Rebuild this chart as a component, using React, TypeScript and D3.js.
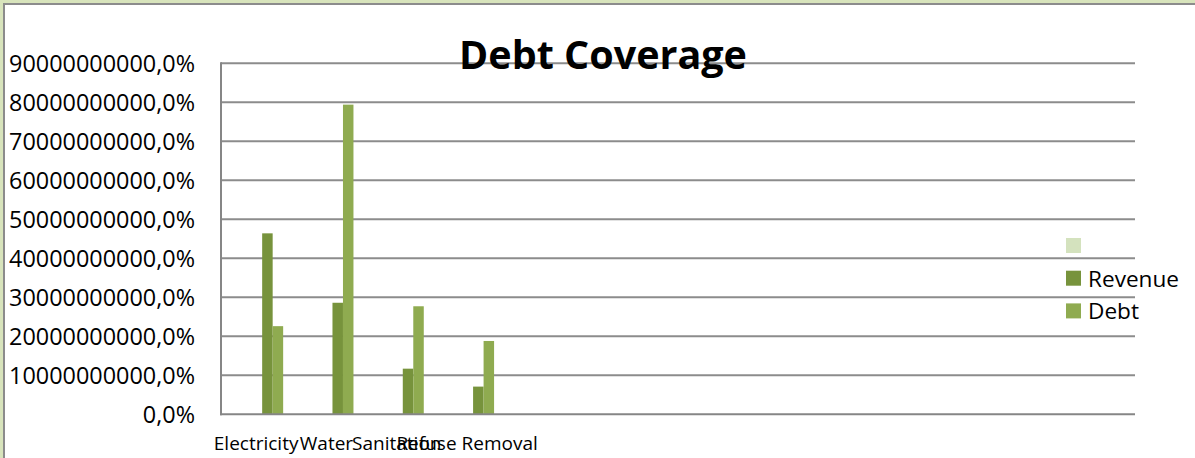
import React from "react";
import * as d3 from "d3";

const categories = ["Electricity", "Water", "Sanitation", "Refuse Removal", "", "", "", "", "", "", "", "", ""];
const seriesNames = ["", "Revenue", "Debt"];
const revenue = [46400000000, 28600000000, 11700000000, 7100000000];
const debt = [22600000000, 79400000000, 27700000000, 18800000000];
const yTicks = [0, 10000000000, 20000000000, 30000000000, 40000000000, 50000000000, 60000000000, 70000000000, 80000000000, 90000000000];
const colors = ["#d4e2be", "#77933c", "#8fab50"];

const W = 1195;
const H = 458;
const FONT = "'Open Sans', 'Noto Sans', sans-serif";

export default function App() {
  const plot = { left: 221, right: 1135, top: 63.3, bottom: 414.3 };
  const x = d3
    .scaleBand<number>()
    .domain(categories.map((_, i) => i))
    .range([plot.left, plot.right])
    .padding(0);
  const inner = d3
    .scaleBand<string>()
    .domain(seriesNames)
    .range([0, x.bandwidth()])
    .paddingInner(0)
    .paddingOuter(1.85)
    .align(0.79);
  const y = d3.scaleLinear().domain([0, 90000000000]).range([plot.bottom, plot.top]);

  const seriesData: { name: string; values: number[] }[] = [
    { name: seriesNames[1], values: revenue },
    { name: seriesNames[2], values: debt },
  ];

  const gridColor = "#8c8c8c";

  return (
    <svg width={W} height={H} style={{ position: "absolute", left: 0, top: 0 }}>
      <rect x={0} y={0} width={W} height={H} fill="#d8e4bc" />
      <rect x={4} y={4} width={W + 50} height={H + 50} fill="#ffffff" stroke="#8c8c8c" strokeWidth={2} />

      {/* gridlines */}
      {yTicks.slice(1).map((t) => (
        <line key={t} x1={plot.left} x2={plot.right} y1={y(t)} y2={y(t)} stroke={gridColor} strokeWidth={2} />
      ))}

      {/* bars */}
      {seriesData.map((s, si) =>
        s.values.map((v, i) => (
          <rect
            key={s.name + i}
            x={(x(i) as number) + (inner(s.name) as number)}
            y={y(v)}
            width={inner.bandwidth()}
            height={y(0) - y(v)}
            fill={colors[si + 1]}
          />
        ))
      )}

      {/* axes */}
      <line x1={plot.left} x2={plot.left} y1={plot.top - 1} y2={plot.bottom + 1} stroke="#868686" strokeWidth={2} />
      <line x1={plot.left - 1} x2={plot.right} y1={plot.bottom} y2={plot.bottom} stroke="#868686" strokeWidth={2} />

      {/* y labels */}
      {yTicks.map((t) => (
        <text
          key={"yl" + t}
          x={195}
          y={y(t)}
          textAnchor="end"
          dominantBaseline="central"
          fontFamily={FONT}
          fontSize={23.4}
          fill="#000"
        >
          {`${t},0%`}
        </text>
      ))}

      {/* x labels */}
      {categories.map((c, i) =>
        c ? (
          <text
            key={"xl" + i}
            x={(x(i) as number) + x.bandwidth() / 2}
            y={450}
            textAnchor="middle"
            fontFamily={FONT}
            fontSize={19}
            fill="#000"
          >
            {c}
          </text>
        ) : null
      )}

      {/* title */}
      <text x={603} y={69} textAnchor="middle" fontFamily={FONT} fontSize={39.5} fontWeight="bold" fill="#000">
        Debt Coverage
      </text>

      {/* legend */}
      {seriesNames.map((n, i) => (
        <g key={"lg" + i} transform={`translate(1066, ${238 + i * 32.7})`}>
          <rect x={0} y={0} width={15} height={15} fill={colors[i]} />
          <text x={22} y={7.5} dominantBaseline="central" fontFamily={FONT} fontSize={22.6} fill="#000">
            {n}
          </text>
        </g>
      ))}
    </svg>
  );
}
